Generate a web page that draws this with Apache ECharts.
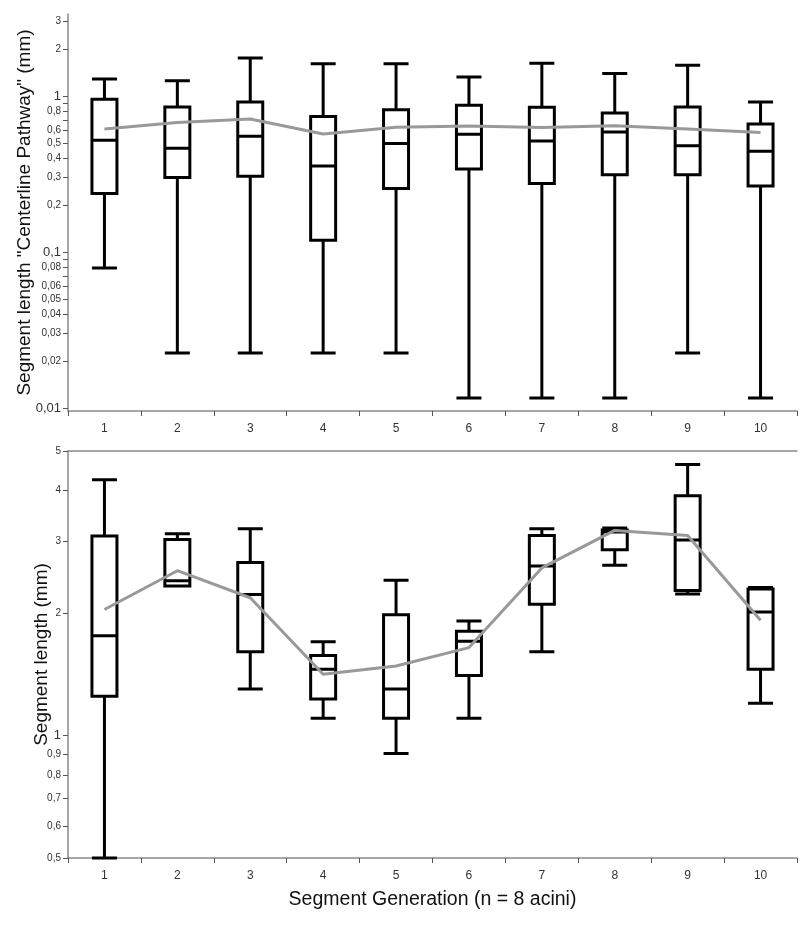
<!DOCTYPE html>
<html><head><meta charset="utf-8">
<script src="https://cdn.jsdelivr.net/npm/echarts@6/dist/echarts.min.js"></script>
<style>html,body{margin:0;padding:0;background:#fff}#c{width:800px;height:932px}</style>
</head><body><div id="c"></div>
<script>
const categories = ['1','2','3','4','5','6','7','8','9','10'];

// Top chart: Segment length "Centerline Pathway" (mm)
const topMin    = [0.079, 0.0225, 0.0225, 0.0225, 0.0225, 0.0116, 0.0116, 0.0116, 0.0225, 0.0116];
const topQ1     = [0.237, 0.300, 0.306, 0.119, 0.255, 0.340, 0.275, 0.312, 0.312, 0.265];
const topMedian = [0.520, 0.462, 0.551, 0.356, 0.495, 0.568, 0.515, 0.588, 0.480, 0.442];
const topQ3     = [0.952, 0.850, 0.915, 0.737, 0.817, 0.871, 0.846, 0.778, 0.850, 0.661];
const topMax    = [1.285, 1.250, 1.750, 1.610, 1.610, 1.320, 1.620, 1.390, 1.570, 0.915];
const topMean   = [0.614, 0.675, 0.712, 0.571, 0.630, 0.642, 0.627, 0.645, 0.614, 0.582];

// Bottom chart: Segment length (mm)
const botMin    = [0.500, 2.330, 1.300, 1.103, 0.903, 1.103, 1.607, 2.620, 2.225, 1.200];
const botQ1     = [1.248, 2.330, 1.607, 1.229, 1.103, 1.405, 2.100, 2.860, 2.270, 1.454];
const botMedian = [1.757, 2.400, 2.220, 1.454, 1.300, 1.704, 2.610, 3.160, 3.020, 2.010];
const botQ3     = [3.090, 3.030, 2.660, 1.572, 1.979, 1.804, 3.100, 3.200, 3.880, 2.290];
const botMax    = [4.250, 3.130, 3.220, 1.700, 2.405, 1.912, 3.220, 3.235, 4.630, 2.310];
const botMean   = [2.040, 2.540, 2.180, 1.414, 1.482, 1.644, 2.580, 3.190, 3.100, 1.920];

// Axis ticks and labels
const topTickValues  = [0.01,0.02,0.03,0.04,0.05,0.06,0.07,0.08,0.09,0.1,0.2,0.3,0.4,0.5,0.6,0.7,0.8,0.9,1,2,3];
const topLabelValues = [0.01,0.02,0.03,0.04,0.05,0.06,0.08,0.1,0.2,0.3,0.4,0.5,0.6,0.8,1,2,3];
const topLabelTexts  = ['0,01','0,02','0,03','0,04','0,05','0,06','0,08','0,1','0,2','0,3','0,4','0,5','0,6','0,8','1','2','3'];
const topMajor       = [0.01, 0.1, 1];
const botTickValues  = [0.5,0.6,0.7,0.8,0.9,1,2,3,4,5];
const botLabelTexts  = ['0,5','0,6','0,7','0,8','0,9','1','2','3','4','5'];
const botMajor       = [1];
const topRange = [0.00957, 3.35];
const botRange = [0.5, 5];

const L = v => Math.log10(v);
const AXIS_GRAY = '#8a8a8a';
const TXT = '#333';
const FONT = '"Liberation Sans", Arial, sans-serif';

function makeFormatter(vals, texts, major) {
  return function (v) {
    for (let i = 0; i < vals.length; i++) {
      if (Math.abs(L(vals[i]) - v) < 1e-6) {
        return major.indexOf(vals[i]) >= 0 ? '{big|' + texts[i] + '}' : '{sm|' + texts[i] + '}';
      }
    }
    return '';
  };
}
const rich = { big: { fontSize: 13, color: TXT, fontFamily: FONT }, sm: { fontSize: 10, color: TXT, fontFamily: FONT } };

function boxData(mn, q1, md, q3, mx) {
  return categories.map((c, i) => [L(mn[i]), L(q1[i]), L(md[i]), L(q3[i]), L(mx[i])]);
}

const xAxisCommon = {
  type: 'category', data: categories,
  axisLine: { onZero: false, lineStyle: { color: AXIS_GRAY, width: 1.5 } },
  axisTick: { show: true, length: 5, lineStyle: { color: '#555', width: 1 } },
  axisLabel: { color: TXT, fontSize: 12, fontFamily: FONT, margin: 12 },
  splitLine: { show: false }
};

const yAxisCommon = {
  type: 'value',
  axisLine: { show: true, lineStyle: { color: AXIS_GRAY, width: 1.5 } },
  splitLine: { show: false },
  nameLocation: 'middle',
  nameMoveOverlap: false,
  nameTextStyle: { fontSize: 19, color: '#111', fontFamily: FONT }
};

const chart = echarts.init(document.getElementById('c'), null, { renderer: 'canvas' });
chart.setOption({
  animation: false,
  backgroundColor: '#fff',
  grid: [
    { left: 68, right: 3, top: 14, height: 397 },
    { left: 68, right: 3, top: 451, height: 407 }
  ],
  xAxis: [
    Object.assign({}, xAxisCommon, { gridIndex: 0 }),
    Object.assign({}, xAxisCommon, {
      gridIndex: 1,
      name: 'Segment Generation (n = 8 acini)', nameLocation: 'middle', nameGap: 32,
      nameMoveOverlap: false,
      nameTextStyle: { fontSize: 19.5, color: '#111', fontFamily: FONT }
    }),
    { type: 'category', data: categories, gridIndex: 1, position: 'top',
      axisLine: { onZero: false, lineStyle: { color: AXIS_GRAY, width: 1.5 } },
      axisTick: { show: false }, axisLabel: { show: false } }
  ],
  yAxis: [
    Object.assign({}, yAxisCommon, {
      gridIndex: 0, min: L(topRange[0]), max: L(topRange[1]),
      name: 'Segment length "Centerline Pathway" (mm)', nameGap: 34,
      axisTick: { show: true, length: 5, lineStyle: { color: '#555' }, customValues: topTickValues.map(L) },
      axisLabel: { customValues: topLabelValues.map(L), formatter: makeFormatter(topLabelValues, topLabelTexts, topMajor), rich: rich, margin: 7 }
    }),
    Object.assign({}, yAxisCommon, {
      gridIndex: 1, min: L(botRange[0]), max: L(botRange[1]),
      name: 'Segment length (mm)', nameGap: 17,
      axisTick: { show: true, length: 5, lineStyle: { color: '#555' }, customValues: botTickValues.map(L) },
      axisLabel: { customValues: botTickValues.map(L), formatter: makeFormatter(botTickValues, botLabelTexts, botMajor), rich: rich, margin: 7 }
    })
  ],
  series: [
    { type: 'boxplot', xAxisIndex: 0, yAxisIndex: 0, boxWidth: [25, 25],
      itemStyle: { color: '#fff', borderColor: '#000', borderWidth: 3 },
      emphasis: { disabled: true },
      data: boxData(topMin, topQ1, topMedian, topQ3, topMax), z: 2 },
    { type: 'line', xAxisIndex: 0, yAxisIndex: 0, data: topMean.map(L), symbol: 'none',
      lineStyle: { color: '#999', width: 3 }, z: 3 },
    { type: 'boxplot', xAxisIndex: 1, yAxisIndex: 1, boxWidth: [25, 25],
      itemStyle: { color: '#fff', borderColor: '#000', borderWidth: 3 },
      emphasis: { disabled: true },
      data: boxData(botMin, botQ1, botMedian, botQ3, botMax), z: 2 },
    { type: 'line', xAxisIndex: 1, yAxisIndex: 1, data: botMean.map(L), symbol: 'none',
      lineStyle: { color: '#999', width: 3 }, z: 3 }
  ]
});
</script>
</body></html>
